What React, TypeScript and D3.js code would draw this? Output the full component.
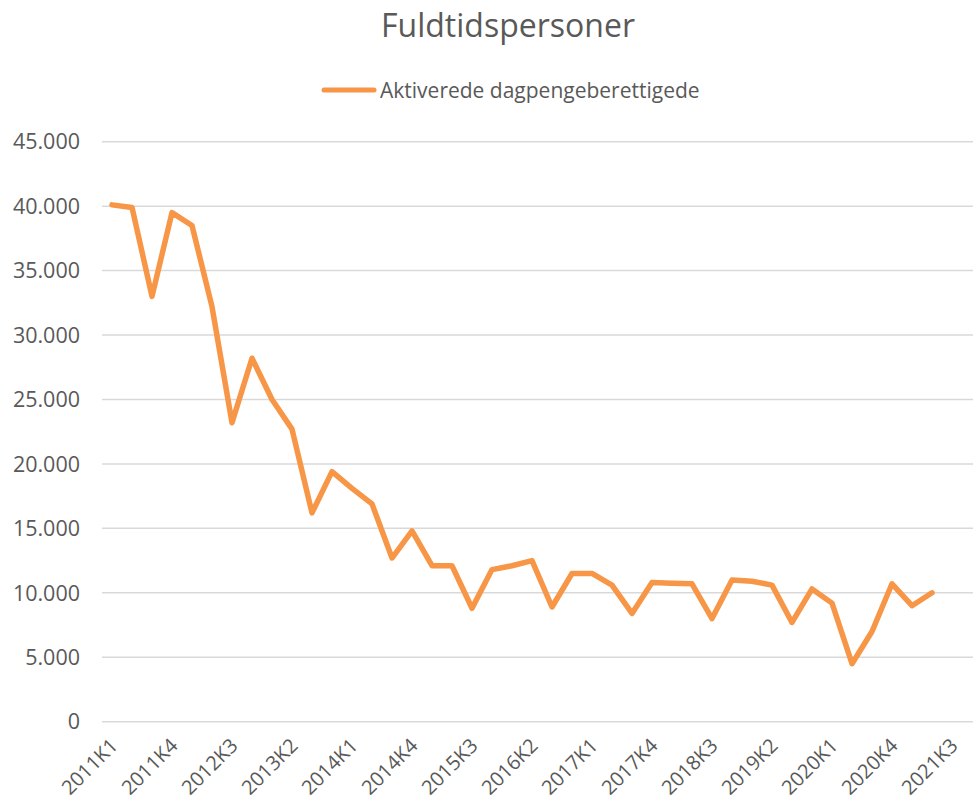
import { useEffect, useRef } from 'react';
import * as d3 from 'd3';

// quarters 2011K1 .. 2021K4 (axis runs one step past the last label)
const years = [2011, 2012, 2013, 2014, 2015, 2016, 2017, 2018, 2019, 2020, 2021];
const quarters = years.flatMap(y => [1, 2, 3, 4].map(q => `${y}K${q}`));

// Aktiverede dagpengeberettigede, fuldtidspersoner (2011K1 .. 2021K2)
const values = [
  40100, 39900, 33000, 39500, 38500, 32200, 23200, 28200, 25000, 22700,
  16200, 19400, 18100, 16900, 12700, 14800, 12100, 12100, 8800, 11800,
  12100, 12500, 8900, 11500, 11500, 10600, 8400, 10800, 10750, 10700,
  8000, 11000, 10900, 10600, 7700, 10300, 9200, 4500, 7000, 10700,
  9000, 10000,
];

const tickLabels = [
  "2011K1", "2011K4", "2012K3", "2013K2", "2014K1", "2014K4", "2015K3", "2016K2",
  "2017K1", "2017K4", "2018K3", "2019K2", "2020K1", "2020K4", "2021K3",
];

const yTicks = [0, 5000, 10000, 15000, 20000, 25000, 30000, 35000, 40000, 45000];

const TITLE = "Fuldtidspersoner";
const SERIES = "Aktiverede dagpengeberettigede";
const LINE_COLOR = "#F79646";
const TEXT_COLOR = "#595959";
const FONT = "'Open Sans', 'Noto Sans', sans-serif";

export default function App() {
  const svgRef = useRef<SVGSVGElement>(null);
  const width = 973;
  const height = 807;

  useEffect(() => {
    if (!svgRef.current) return;
    const svg = d3.select(svgRef.current);
    svg.selectAll("*").remove();

    const plot = { left: 102, right: 982, top: 141.7, bottom: 721.7 };

    const x = d3.scaleBand<string>()
      .domain(quarters)
      .range([plot.left, plot.right])
      .padding(0);
    const cx = (q: string) => (x(q) as number) + x.bandwidth() / 2;

    const y = d3.scaleLinear()
      .domain([0, 45000])
      .range([plot.bottom, plot.top]);

    const fmt = (v: number) => d3.format(",")(v).replace(/,/g, ".");

    // background
    svg.append("rect")
      .attr("width", width)
      .attr("height", height)
      .attr("fill", "#ffffff");

    // title
    svg.append("text")
      .attr("x", 508)
      .attr("y", 37)
      .attr("text-anchor", "middle")
      .attr("fill", TEXT_COLOR)
      .style("font-family", FONT)
      .style("font-size", "32px")
      .text(TITLE);

    // legend
    const legend = svg.append("g").attr("transform", "translate(322,90)");
    legend.append("line")
      .attr("x1", 2)
      .attr("x2", 52)
      .attr("y1", 0)
      .attr("y2", 0)
      .attr("stroke", LINE_COLOR)
      .attr("stroke-width", 5)
      .attr("stroke-linecap", "round");
    legend.append("text")
      .attr("x", 58)
      .attr("y", 7.5)
      .attr("fill", TEXT_COLOR)
      .style("font-family", FONT)
      .style("font-size", "21px")
      .text(SERIES);

    // horizontal gridlines
    svg.append("g")
      .selectAll("line")
      .data(yTicks)
      .enter()
      .append("line")
      .attr("x1", plot.left)
      .attr("x2", plot.right)
      .attr("y1", d => y(d))
      .attr("y2", d => y(d))
      .attr("stroke", "#D9D9D9")
      .attr("stroke-width", 1.5);

    // y labels
    svg.append("g")
      .selectAll("text")
      .data(yTicks)
      .enter()
      .append("text")
      .attr("x", 80)
      .attr("y", d => y(d))
      .attr("dy", "0.36em")
      .attr("text-anchor", "end")
      .attr("fill", TEXT_COLOR)
      .style("font-family", FONT)
      .style("font-size", "21.5px")
      .text(d => fmt(d));

    // x labels, rotated
    svg.append("g")
      .selectAll("text")
      .data(tickLabels)
      .enter()
      .append("text")
      .attr("transform", d => `translate(${cx(d) + 7},747) rotate(-45)`)
      .attr("text-anchor", "end")
      .attr("fill", TEXT_COLOR)
      .style("font-family", FONT)
      .style("font-size", "20px")
      .text(d => d);

    // series line
    const line = d3.line<number>()
      .x((_, i) => cx(quarters[i]))
      .y(d => y(d));

    svg.append("path")
      .datum(values)
      .attr("d", line)
      .attr("fill", "none")
      .attr("stroke", LINE_COLOR)
      .attr("stroke-width", 5.5)
      .attr("stroke-linejoin", "round")
      .attr("stroke-linecap", "round");
  }, []);

  return (
    <svg
      ref={svgRef}
      width={width}
      height={height}
      style={{ position: "absolute", left: 0, top: 0, display: "block" }}
    ></svg>
  );
}
